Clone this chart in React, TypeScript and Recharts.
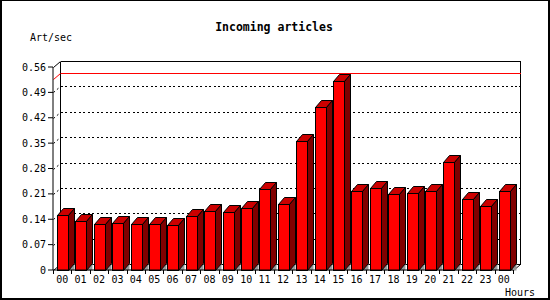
import React from "react";
import {
  BarChart,
  Bar,
  XAxis,
  YAxis,
  CartesianGrid,
  ReferenceLine,
} from "recharts";

const HOURS = [
  "00", "01", "02", "03", "04", "05", "06", "07", "08", "09", "10", "11",
  "12", "13", "14", "15", "16", "17", "18", "19", "20", "21", "22", "23", "00",
];

const RATES = [
  0.151, 0.135, 0.126, 0.129, 0.126, 0.126, 0.123, 0.148, 0.162, 0.159,
  0.17, 0.223, 0.181, 0.356, 0.449, 0.522, 0.217, 0.225, 0.21, 0.212,
  0.217, 0.297, 0.195, 0.176, 0.217,
];

const Y_TICKS = [0, 0.07, 0.14, 0.21, 0.28, 0.35, 0.42, 0.49, 0.56];

const MAX_RATE = 0.526;

const FONT = "'DejaVu Sans Mono', monospace";

// back plane offset of the 3d frame
const DX = 7;
const DY = 6;
// bar depth
const BDX = 6;
const BDY = 7;

const data = HOURS.map((h, i) => ({ hour: h, rate: RATES[i] }));

// snap to the pixel grid so 1px lines stay sharp
const px = (v: number) => Math.round(v) + 0.5;

const Bar3D = (props: any) => {
  if (props.x == null || props.y == null) return <g />;
  const x = px(props.x);
  const y = px(props.y);
  const r = px(props.x + props.width);
  const b = px(props.y + props.height);
  return (
    <g stroke="#000" strokeWidth={1}>
      <polygon
        points={`${r},${b} ${r + BDX},${b - BDY} ${r + BDX},${b}`}
        fill="#999"
        stroke="none"
      />
      <polygon
        points={`${x},${y} ${x + BDX},${y - BDY} ${r + BDX},${y - BDY} ${r},${y}`}
        fill="#cc0000"
      />
      <polygon
        points={`${r},${y} ${r + BDX},${y - BDY} ${r + BDX},${b - BDY} ${r},${b}`}
        fill="#800000"
      />
      <rect x={x} y={y} width={r - x} height={b - y} fill="#ff0000" />
    </g>
  );
};

// horizontal grid drawn on the back wall, plus the frame
const BackGrid = (props: any) => {
  const { index } = props;
  const top = props.y;
  const bottom = props.y + props.height;
  const isTop = Math.abs(props.y1 - top) < 0.5;
  const isBottom = Math.abs(props.y1 - bottom) < 0.5;
  const solid = isTop || isBottom;
  const dash = solid ? undefined : "2 2.5";
  const x1 = px(props.x1);
  const x2 = px(props.x2);
  const y1 = px(props.y1);
  const t = px(top);
  const b = px(bottom);
  return (
    <g key={`g-${index}`}>
      <line
        x1={x1 + DX}
        y1={y1 - DY}
        x2={x2 + DX}
        y2={y1 - DY}
        stroke="#000"
        strokeDasharray={dash}
        shapeRendering="crispEdges"
      />
      <line
        x1={x1}
        y1={y1}
        x2={x1 + DX}
        y2={y1 - DY}
        stroke="#000"
        strokeDasharray={dash}
      />
      {isTop && (
        <>
          <line
            x1={x1 + DX}
            y1={t - DY}
            x2={x1 + DX}
            y2={b - DY}
            stroke="#000"
            shapeRendering="crispEdges"
          />
          <line
            x1={x2 + DX}
            y1={t - DY}
            x2={x2 + DX}
            y2={b - DY}
            stroke="#000"
            shapeRendering="crispEdges"
          />
          <line x1={x2} y1={b} x2={x2 + DX} y2={b - DY} stroke="#000" />
        </>
      )}
      {!solid && (
        <line
          x1={x2 + DX - 2}
          y1={y1 - DY}
          x2={x2 + DX}
          y2={y1 - DY}
          stroke="#000"
          shapeRendering="crispEdges"
        />
      )}
    </g>
  );
};

const MaxLine = (props: any) => {
  const x1 = px(props.x1);
  const x2 = px(props.x2);
  const y1 = px(props.y1);
  return (
    <g strokeOpacity={1} strokeWidth={1}>
      <line x1={x1} y1={y1} x2={x1 + DX} y2={y1 - DY} stroke="#ff0000" />
      <line
        x1={x1 + DX}
        y1={y1 - DY}
        x2={x2 + DX}
        y2={y1 - DY}
        stroke="#ff0000"
        shapeRendering="crispEdges"
      />
    </g>
  );
};

const HourTick = (props: any) => {
  const { x, y, payload, index } = props;
  const off = payload.offset ?? 0;
  const last = index === HOURS.length - 1;
  return (
    <g>
      <line
        x1={px(x - off)}
        y1={y}
        x2={px(x - off)}
        y2={y + 4}
        stroke="#000"
        shapeRendering="crispEdges"
      />
      {last && (
        <line
          x1={px(x + off)}
          y1={y}
          x2={px(x + off)}
          y2={y + 4}
          stroke="#000"
          shapeRendering="crispEdges"
        />
      )}
      <text
        x={x}
        y={y + 13}
        textAnchor="middle"
        fontFamily={FONT}
        fontSize={10}
        fill="#000"
      >
        {payload.value}
      </text>
    </g>
  );
};

export default function App() {
  return (
    <div
      style={{
        position: "absolute",
        left: 0,
        top: 0,
        width: 550,
        height: 300,
        background: "#fff",
      }}
    >
      <BarChart
        width={550}
        height={300}
        data={data}
        margin={{ top: 67, right: 37, bottom: 0, left: 8 }}
      >
        <CartesianGrid
          vertical={false}
          horizontal={(p: any) => <BackGrid {...p} />}
        />
        <ReferenceLine y={MAX_RATE} shape={(p: any) => <MaxLine {...p} />} />
        <XAxis
          dataKey="hour"
          interval={0}
          height={30}
          tickLine={false}
          tickSize={0}
          tickMargin={0}
          stroke="#000"
          tick={(p: any) => <HourTick {...p} />}
          allowDuplicatedCategory
        />
        <YAxis
          width={45}
          domain={[0, 0.56]}
          ticks={Y_TICKS}
          interval={0}
          tickSize={5}
          tickMargin={2}
          stroke="#000"
          tickFormatter={(v: number) => (v === 0 ? "0" : v.toFixed(2))}
          tick={{ fill: "#000", fontFamily: FONT, fontSize: 10 }}
        />
        <Bar
          dataKey="rate"
          barSize={11}
          shape={(p: any) => <Bar3D {...p} />}
          isAnimationActive={false}
        />
      </BarChart>
      <svg
        width={550}
        height={300}
        style={{ position: "absolute", left: 0, top: 0, pointerEvents: "none" }}
      >
        <text
          x={274}
          y={31}
          textAnchor="middle"
          fontFamily={FONT}
          fontWeight="bold"
          fontSize={11.5}
          fill="#000"
        >
          Incoming articles
        </text>
        <text x={30} y={41} fontFamily={FONT} fontSize={10} fill="#000">
          Art/sec
        </text>
        <text x={505} y={296} fontFamily={FONT} fontSize={10} fill="#000">
          Hours
        </text>
      </svg>
      <div
        style={{
          position: "absolute",
          left: 0,
          top: 0,
          width: 550,
          height: 300,
          boxSizing: "border-box",
          borderTop: "1px solid #000",
          borderLeft: "2px solid #000",
          borderRight: "2px solid #000",
          borderBottom: "2px solid #000",
          pointerEvents: "none",
        }}
      />
    </div>
  );
}
